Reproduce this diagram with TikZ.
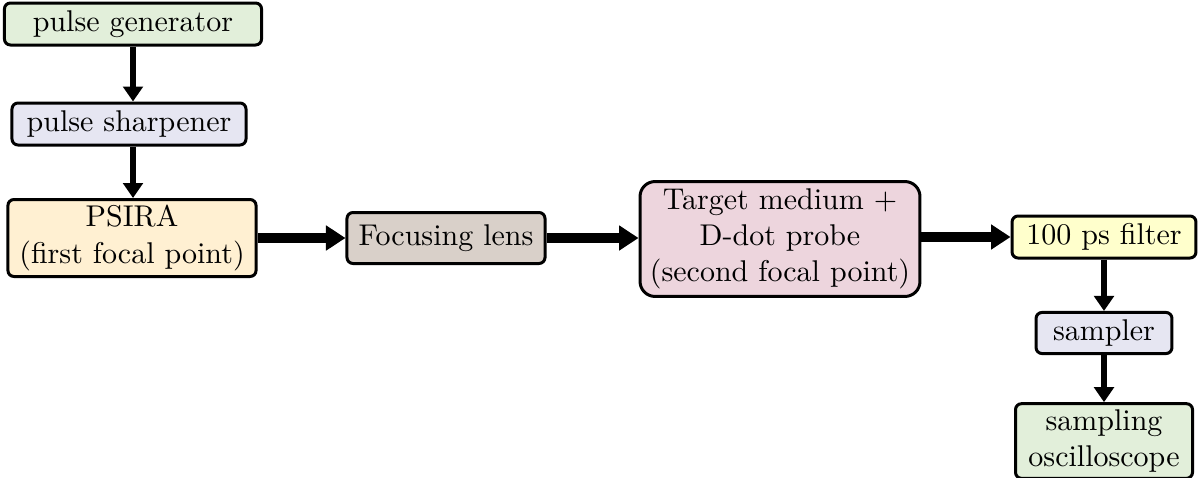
\documentclass[tikz,border=0pt]{standalone}
\usetikzlibrary{arrows.meta}
\definecolor{genfill}{HTML}{E2EFDA}
\definecolor{sharpfill}{HTML}{E6E6F2}
\definecolor{psirafill}{HTML}{FFF0D2}
\definecolor{lensfill}{HTML}{D9D0C9}
\definecolor{targetfill}{HTML}{EDD5DD}
\definecolor{filterfill}{HTML}{FFFFCC}

\begin{document}
\begin{tikzpicture}[x=0.3333pt,y=-0.3333pt,
  block/.style={draw,line width=1pt,rounded corners=2pt,align=center,inner sep=2pt},
  vflow/.style={line width=2.3pt,-{Triangle[length=5pt,width=6.5pt]}},
  hflow/.style={line width=3.4pt,-{Triangle[length=6.5pt,width=8pt]}}]
\useasboundingbox (0,0) rectangle (1199,477);
\node[block,fill=genfill,minimum width=85.7pt,minimum height=14pt] (gen) at (133,24) {pulse generator};
\node[block,fill=sharpfill,minimum width=78pt,minimum height=14pt] (sharp) at (129,124) {pulse sharpener};
\node[block,fill=psirafill,minimum width=82.7pt,minimum height=23.7pt] (psira) at (132,238) {PSIRA\\(first focal point)};
\node[block,fill=lensfill,minimum width=66pt,minimum height=17pt] (lens) at (446,238) {Focusing lens};
\node[block,fill=targetfill,rounded corners=5pt,minimum width=93.3pt,minimum height=38.3pt] (target) at (780,239) {Target medium +\\D-dot probe\\(second focal point)};
\node[block,fill=filterfill,minimum width=61.3pt,minimum height=14pt] (filter) at (1104,237) {100 ps filter};
\node[block,fill=sharpfill,minimum width=45.3pt,minimum height=13.7pt] (sampler) at (1104,333) {sampler};
\node[block,fill=genfill,minimum width=59pt,minimum height=22pt] (scope) at (1104,441) {sampling\\oscilloscope};
\draw[vflow] (gen.south) -- (gen.south |- sharp.north);
\draw[vflow] (gen.south |- sharp.south) -- (gen.south |- psira.north);
\draw[hflow] (psira) -- (lens);
\draw[hflow] (lens.east) -- (target.west |- lens.east);
\draw[hflow] (target.east |- filter.west) -- (filter.west);
\draw[vflow] (filter) -- (sampler);
\draw[vflow] (sampler) -- (scope);
\end{tikzpicture}
\end{document}
